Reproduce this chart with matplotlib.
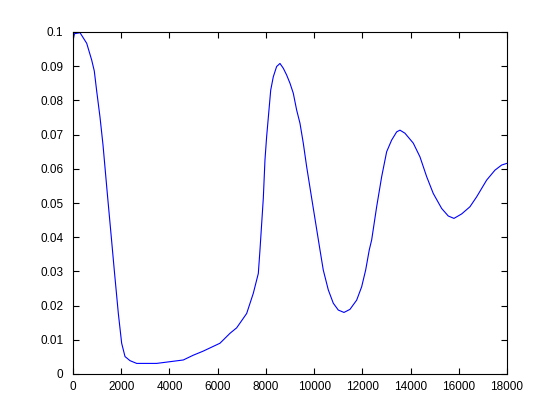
import matplotlib
matplotlib.use("Agg")
import matplotlib.pyplot as plt

x = [0, 60, 290, 568, 775, 883, 983, 1120, 1244, 1420, 1604, 1714, 1880, 2018, 2157, 2364, 2640,
     3470, 4023, 4575, 4990, 5404, 6096, 6511, 6788, 7203, 7478, 7686, 7755, 7893, 7962,
     8031, 8128, 8200, 8307, 8445, 8584, 8722, 8862, 9000, 9136, 9275, 9414, 9551, 9691,
     9899, 10243, 10380, 10588, 10795, 11002, 11238, 11487, 11765, 11972, 12138, 12288,
     12387, 12594, 12802, 13009, 13216, 13424, 13561, 13768, 14113, 14390, 14668, 14941,
     15290, 15564, 15800, 16119, 16463, 16741, 17156, 17500, 17778, 18000]
y = [0.0975, 0.0995, 0.0998, 0.0967, 0.0918, 0.0886, 0.0827, 0.0751, 0.0670, 0.0530, 0.0388, 0.0302,
     0.0177, 0.0090, 0.0051, 0.0039, 0.0031, 0.0031, 0.0036, 0.0041, 0.0055, 0.0067, 0.0090,
     0.0119, 0.0135, 0.0177, 0.0236, 0.0294, 0.0363, 0.0514, 0.0626, 0.0694, 0.0772, 0.0830,
     0.0869, 0.0899, 0.0908, 0.0894, 0.0874, 0.0850, 0.0821, 0.0772, 0.0733, 0.0675, 0.0606,
     0.0514, 0.0363, 0.0304, 0.0246, 0.0207, 0.0187, 0.0180, 0.0189, 0.0216, 0.0255, 0.0304,
     0.0363, 0.0392, 0.0489, 0.0577, 0.0650, 0.0684, 0.0708, 0.0713, 0.0704, 0.0675, 0.0635,
     0.0577, 0.0528, 0.0484, 0.0462, 0.0455, 0.0468, 0.0489, 0.0518, 0.0567, 0.0596, 0.0611,
     0.0616]

xticks = [0, 2000, 4000, 6000, 8000, 10000, 12000, 14000, 16000, 18000]
yticks = [0, 0.01, 0.02, 0.03, 0.04, 0.05, 0.06, 0.07, 0.08, 0.09, 0.1]
yticklabels = ['0', '0.01', '0.02', '0.03', '0.04', '0.05', '0.06', '0.07', '0.08', '0.09', '0.1']

plt.rcParams['font.family'] = ['Liberation Sans', 'DejaVu Sans']
fig = plt.figure(figsize=(5.6, 4.2), dpi=100)
ax = fig.add_axes([73/560, 46/420, 434/560, 342/420])
ax.plot(x, y, color='#0000ff', linewidth=0.8)
ax.set_xlim(0, 18000)
ax.set_ylim(0, 0.1)
ax.set_xticks(xticks)
ax.set_xticklabels([str(t) for t in xticks])
ax.set_yticks(yticks)
ax.set_yticklabels(yticklabels)
ax.tick_params(direction='in', length=4, width=0.8, labelsize=8.5, top=True, right=True,
               colors='black')
ax.tick_params(axis='x', pad=5)
ax.tick_params(axis='y', pad=7)
for s in ax.spines.values():
    s.set_linewidth(0.8)
fig.savefig('out.png', dpi=100)
